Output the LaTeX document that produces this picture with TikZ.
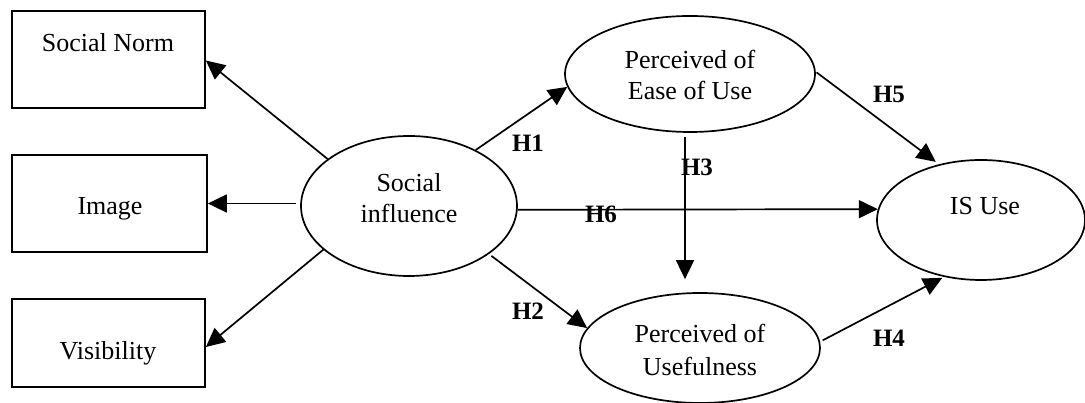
\documentclass[tikz,border=0pt]{standalone}
\usepackage{fontspec}
\setmainfont{Liberation Serif}
\usetikzlibrary{arrows.meta,shapes.geometric}
\begin{document}
\begin{tikzpicture}[x=1pt,y=1pt,
  box/.style={draw,line width=1.7pt,rectangle,inner sep=0pt},
  oval/.style={draw,line width=1.7pt,ellipse,inner sep=0pt},
  txt/.style={font=\fontsize{26}{30}\selectfont,anchor=base,inner sep=0pt},
  hyp/.style={font=\fontsize{25}{30}\selectfont\bfseries,anchor=base,inner sep=0pt},
  arr/.style={line width=1.7pt,-{Triangle[length=19pt,width=18pt]}}]
\useasboundingbox (0,0) rectangle (1085,403);
% boxes (y = 403 - pixel y)
\node[box,minimum width=193pt,minimum height=97pt] (sn) at (108.5,343.5) {};
\node[box,minimum width=195pt,minimum height=97pt] (img) at (109.5,199.5) {};
\node[box,minimum width=193pt,minimum height=88pt] (vis) at (108.5,60) {};
\node[txt] (snt) at (108,351) {Social Norm};
\node[txt] (imgt) at (110,188) {Image};
\node[txt] (vist) at (108,43) {Visibility};
% ellipses
\node[oval,minimum width=216pt,minimum height=140pt] (si) at (409,197) {};
\node[oval,minimum width=250pt,minimum height=116pt] (peou) at (690,329) {};
\node[oval,minimum width=240pt,minimum height=110pt] (pu) at (700,55) {};
\node[oval,minimum width=208pt,minimum height=120pt] (isu) at (981,183) {};
\node[txt] (sit1) at (409,211) {Social};
\node[txt] (sit2) at (409,180) {influence};
\node[txt] (peout1) at (690,334) {Perceived of};
\node[txt] (peout2) at (690,303) {Ease of Use};
\node[txt] (put1) at (700,60) {Perceived of};
\node[txt] (put2) at (700,27) {Usefulness};
\node[txt] (isut) at (985,188) {IS Use};
% arrows
\draw[arr] (si.150) -- ([yshift=-1pt]sn.east);
\draw[arr,shorten <=4pt] (img.east -| si.west) -- (img.east);
\draw[arr] (si.207) -- ([yshift=-4pt]vis.east);
\draw[arr] (si.40.8) -- (peou.186.5);
\draw[arr] (si.-2) -- (isu.174);
\draw[arr,shorten <=3pt] (si.-31.5) -- (pu.170);
\draw[arr] ([xshift=-5pt,yshift=-4pt]peou.south) -- ([xshift=-15pt,yshift=13pt]pu.north);
\draw[arr,shorten <=1pt,shorten >=4pt] (peou.1) -- (isu.127);
\draw[arr,shorten <=3pt,shorten >=2pt] (pu.3) -- (isu.237);
% hypothesis labels
\node[hyp] (h1) at (528,251) {H1};
\node[hyp] (h2) at (528,83) {H2};
\node[hyp] (h3) at (697,227) {H3};
\node[hyp] (h4) at (889,56) {H4};
\node[hyp] (h5) at (889,300) {H5};
\node[hyp] (h6) at (601,180) {H6};
\end{tikzpicture}
\end{document}
